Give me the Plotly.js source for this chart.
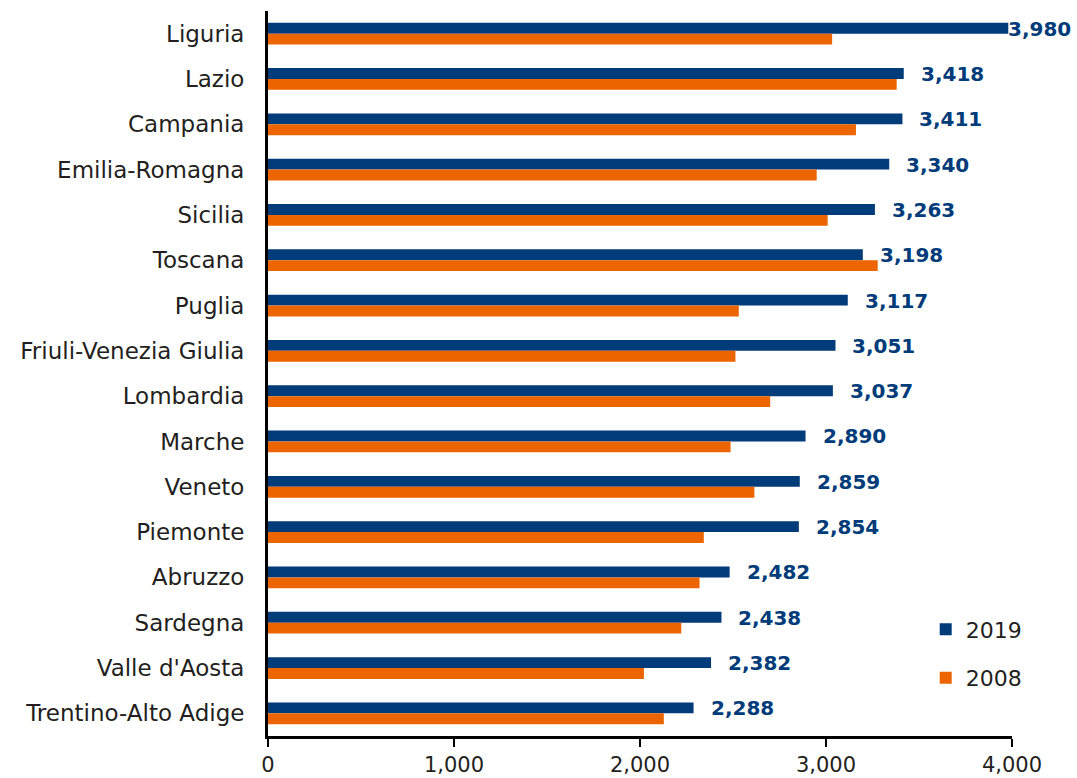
<!DOCTYPE html>
<html>
<head>
<meta charset="utf-8">
<script src="https://cdn.plot.ly/plotly-3.0.1.min.js"></script>
<style>html,body{margin:0;padding:0;background:#fff;}#chart{width:1077px;height:778px;}</style>
</head>
<body>
<div id="chart"></div>
<script>
const regions = ["Liguria","Lazio","Campania","Emilia-Romagna","Sicilia","Toscana","Puglia","Friuli-Venezia Giulia","Lombardia","Marche","Veneto","Piemonte","Abruzzo","Sardegna","Valle d'Aosta","Trentino-Alto Adige"];
const values2019 = [3980,3418,3411,3340,3263,3198,3117,3051,3037,2890,2859,2854,2482,2438,2382,2288];
const values2008 = [3033,3380,3161,2950,3009,3278,2531,2513,2700,2487,2615,2343,2320,2222,2021,2128];
const tickVals = [0,1000,2000,3000,4000];

const FONT = "DejaVu Sans, sans-serif";
const BLUE = "#003B7A";
const ORANGE = "#EC6500";
const TXT = "#231F20";

const traces = [
  {type:"bar", orientation:"h", name:"2019", y:regions, x:values2019,
   marker:{color:BLUE}, legendgroup:"a", hoverinfo:"x+y"},
  {type:"bar", orientation:"h", name:"2008", y:regions, x:values2008,
   marker:{color:ORANGE}, legendgroup:"b", hoverinfo:"x+y"}
];

const annotations = regions.map((r,i)=>({
  x: values2019[i], y: r, xref:"x", yref:"y",
  text: values2019[i].toLocaleString("en-US"),
  showarrow:false, xanchor:"left", yanchor:"middle",
  xshift: i===0 ? -2 : 15, yshift: 5,
  font:{family:FONT, size:20, color:BLUE, weight:"bold"}
}));

const layout = {
  width:1077, height:778,
  margin:{l:268, r:65, t:11, b:42, pad:0},
  paper_bgcolor:"#fff", plot_bgcolor:"#fff",
  barmode:"group", bargap:0.52, bargroupgap:0,
  font:{family:FONT, color:TXT, size:21},
  xaxis:{range:[0,4000], tickvals:tickVals, tickformat:",", showgrid:false, zeroline:false,
         showline:true, linecolor:"#000", linewidth:3, ticks:"outside", ticklen:8, tickwidth:2, tickcolor:"#000",
         tickfont:{family:FONT, size:21, color:TXT}, fixedrange:true},
  yaxis:{autorange:"reversed", showgrid:false, zeroline:false, showline:true, linecolor:"#000", linewidth:3,
         ticks:"", ticklabelstandoff:16, tickfont:{family:FONT, size:23, color:TXT}, fixedrange:true},
  showlegend:true,
  legend:{x:0.884, y:0.176, xanchor:"left", yanchor:"top", traceorder:"grouped", tracegroupgap:17,
          font:{family:FONT, size:22, color:TXT}, bgcolor:"rgba(0,0,0,0)", itemwidth:30},
  annotations: annotations
};

Plotly.newPlot("chart", traces, layout, {displayModeBar:false, staticPlot:true});
</script>
</body>
</html>
